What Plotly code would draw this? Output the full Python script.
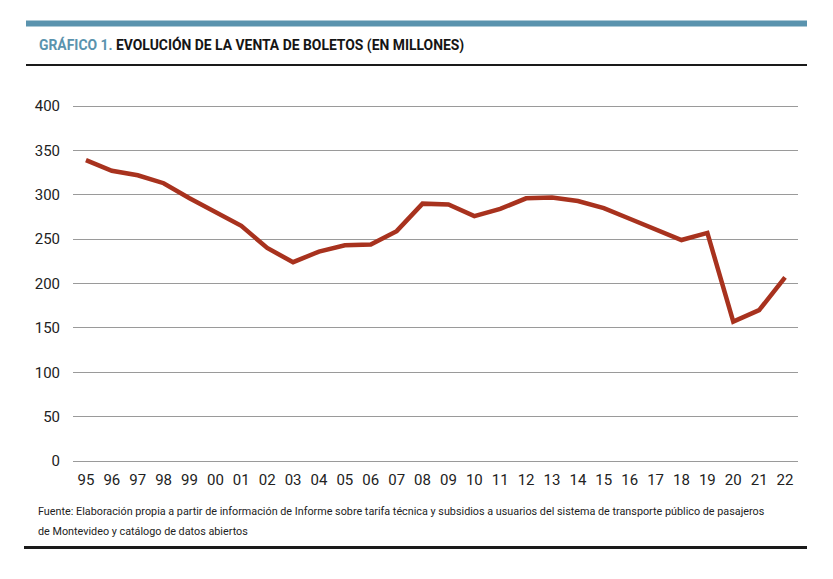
import plotly.graph_objects as go

years = ["95", "96", "97", "98", "99", "00", "01", "02", "03", "04", "05", "06", "07", "08",
         "09", "10", "11", "12", "13", "14", "15", "16", "17", "18", "19", "20", "21", "22"]
boletos = [339, 327, 322, 313, 296, 281, 265, 240, 224, 236, 243, 244, 259, 290,
           289, 276, 284, 296, 297, 293, 285, 273, 261, 249, 257, 157, 170, 207]
y_ticks = [0, 50, 100, 150, 200, 250, 300, 350, 400]
source_lines = [
    "Fuente: Elaboración propia a partir de información de Informe sobre tarifa técnica y subsidios a usuarios del sistema de transporte público de pasajeros",
    "de Montevideo y catálogo de datos abiertos",
]

W, H = 833, 579
L, R = 73, 798
Y0_PX, Y400_PX = 461, 106
UNIT = (Y0_PX - Y400_PX) / 400.0
T, B = 102, 465
Y_LO = -(B - Y0_PX) / UNIT
Y_HI = (Y0_PX - T) / UNIT
FONT = "Roboto, Liberation Sans, sans-serif"

def px(x):
    return (x - L) / (R - L)

def py(y):
    return (B - y) / (B - T)

fig = go.Figure()
fig.add_trace(go.Scatter(
    x=list(range(len(years))), y=boletos, mode="lines",
    line=dict(color="#A8321E", width=4.5), hoverinfo="skip", showlegend=False,
))

annotations = [
    dict(xref="paper", yref="paper", x=px(37), y=py(45), xanchor="left", yanchor="middle",
         showarrow=False,
         text="<b><span style='color:#5A93AE'>GRÁFICO 1.</span> EVOLUCIÓN DE LA VENTA DE BOLETOS (EN MILLONES)</b>",
         font=dict(family=FONT, size=13.9, color="#151515")),
]
for i, line in enumerate(source_lines):
    annotations.append(dict(
        xref="paper", yref="paper", x=px(36), y=py(511.5 + 19.5 * i),
        xanchor="left", yanchor="middle", showarrow=False, align="left",
        text=line, font=dict(family=FONT, size=10.8, color="#222222")))

fig.update_layout(
    width=W, height=H,
    margin=dict(l=L, r=W - R, t=T, b=H - B, pad=0),
    paper_bgcolor="white", plot_bgcolor="white",
    font=dict(family=FONT, color="#222222", size=15),
    xaxis=dict(
        range=[-0.5, len(years) - 0.5], tickmode="array",
        tickvals=list(range(len(years))), ticktext=years,
        showgrid=False, zeroline=False, showline=False, ticks="",
        tickfont=dict(size=15, family=FONT, color="#222222"),
        ticklabelstandoff=4, fixedrange=True,
    ),
    yaxis=dict(
        range=[Y_LO, Y_HI], tickmode="array", tickvals=y_ticks,
        showgrid=True, gridcolor="#9a9a9a", gridwidth=1.3,
        zeroline=False, showline=False, ticks="",
        tickfont=dict(size=15, family=FONT, color="#222222"),
        ticklabelstandoff=12, fixedrange=True,
    ),
    shapes=[
        dict(type="rect", xref="paper", yref="paper", x0=px(26), x1=px(807),
             y0=py(26.5), y1=py(20.5), fillcolor="#5A93AE", line=dict(width=0), layer="above"),
        dict(type="rect", xref="paper", yref="paper", x0=px(26), x1=px(807),
             y0=py(66), y1=py(64), fillcolor="#1a1a1a", line=dict(width=0), layer="above"),
        dict(type="rect", xref="paper", yref="paper", x0=px(24), x1=px(807),
             y0=py(549), y1=py(546), fillcolor="#1a1a1a", line=dict(width=0), layer="above"),
    ],
    annotations=annotations,
)

fig.write_html("out.html", config={"displayModeBar": False},
               post_script="document.body.style.margin='0';")
